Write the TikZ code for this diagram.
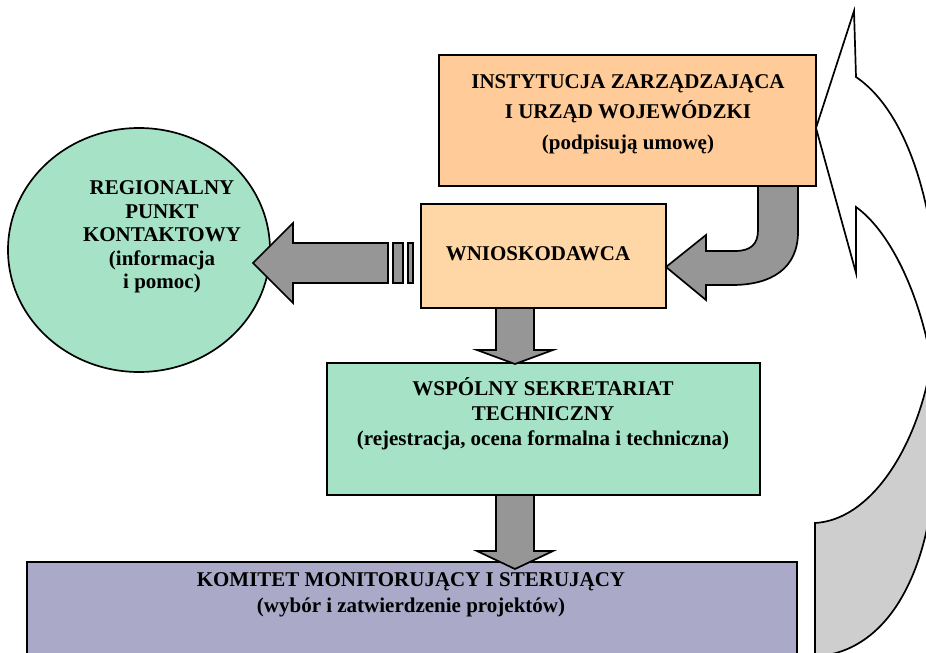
\documentclass[tikz,border=0pt]{standalone}
\usepackage{fontspec}
\setmainfont{Liberation Serif}
\usetikzlibrary{shapes.geometric}
\definecolor{peachA}{RGB}{255,204,153}
\definecolor{peachB}{RGB}{255,214,166}
\definecolor{mint}{RGB}{166,226,198}
\definecolor{lav}{RGB}{170,170,200}
\definecolor{arrgray}{RGB}{150,150,150}
\definecolor{lightgr}{RGB}{206,206,206}
\tikzset{
  boxshape/.style={draw=black, line width=1.7pt, inner sep=0pt},
  blockarrow/.style={draw=black, line width=1.7pt, fill=arrgray, line join=miter},
  curvearrow/.style={draw=black, line width=1.7pt, line join=miter},
  lbl/.style={font=\fontsize{21}{25}\selectfont\bfseries, align=center, inner sep=0pt}
}
\begin{document}
\begin{tikzpicture}[x=1pt,y=-1pt]
\useasboundingbox (0,0) rectangle (926,653);
\clip (0,0) rectangle (926,653);
% big curved arrow on the right
\draw[curvearrow, fill=white] (816,128) -- (854,11) -- (856,77)
  .. controls (890,100) and (915,150) .. (928,215) -- (970,215) -- (970,345) -- (928,345)
  .. controls (915,285) and (888,230) .. (856,207) -- (856,273) -- cycle;
\draw[curvearrow, fill=lightgr] (930,370) .. controls (915,450) and (870,520) .. (815,523)
  -- (815,670) -- (820,670) -- (820,656) .. controls (880,650) and (920,590) .. (932,500)
  -- (970,500) -- (970,370) -- cycle;
% boxes
\node[boxshape, fill=peachA, minimum width=377pt, minimum height=131pt] (iz) at (627.5,120.5) {};
\node[boxshape, fill=peachB, minimum width=245pt, minimum height=104pt] (wn) at (543.5,256) {};
\node[boxshape, fill=mint, minimum width=433pt, minimum height=132pt] (wst) at (543.5,429) {};
\node[boxshape, fill=lav, minimum width=770pt, minimum height=120pt] (km) at (412,622) {};
\node[boxshape, ellipse, fill=mint, minimum width=262pt, minimum height=244pt] (rpk) at (139,250) {};
% texts
\node[lbl, font=\fontsize{21}{30.5}\selectfont\bfseries] (izt) at (628,114) {INSTYTUCJA ZARZĄDZAJĄCA\\I URZĄD WOJEWÓDZKI\\(podpisują umowę)};
\node[lbl] (wnt) at (538,254) {WNIOSKODAWCA};
\node[lbl] (wstt) at (543,414) {WSPÓLNY SEKRETARIAT\\TECHNICZNY\\(rejestracja, ocena formalna i techniczna)};
\node[lbl, font=\fontsize{21}{26}\selectfont\bfseries] (kmt) at (411,595) {KOMITET MONITORUJĄCY I STERUJĄCY\\(wybór i zatwierdzenie projektów)};
\node[lbl, font=\fontsize{21}{23.5}\selectfont\bfseries] (rpkt) at (162,237) {REGIONALNY\\PUNKT\\KONTAKTOWY\\(informacja\\i pomoc)};
% striped arrow to contact point
\draw[blockarrow] (253,263) -- (293,223) -- (293,243) -- (388,243) -- (388,283) -- (293,283) -- (293,303) -- cycle;
\draw[blockarrow] (393,243) rectangle (403,283);
\draw[blockarrow] (408,243) rectangle (413,283);
% bent arrow from IZ to applicant
\draw[blockarrow] (798,186) -- (798,232) .. controls (798,268) and (772,285) .. (732,285)
  -- (706,285) -- (706,300) -- (666,267) -- (706,235) -- (706,251) -- (735,251)
  .. controls (751,251) and (758,244) .. (758,230) -- (758,186) -- cycle;
% down arrows
\draw[blockarrow] (496,308) -- (496,350) -- (477,350) -- (515,364) -- (553,350) -- (534,350) -- (534,308) -- cycle;
\draw[blockarrow] (496,495) -- (496,551) -- (477,551) -- (515,569) -- (553,551) -- (534,551) -- (534,495) -- cycle;
\end{tikzpicture}
\end{document}
